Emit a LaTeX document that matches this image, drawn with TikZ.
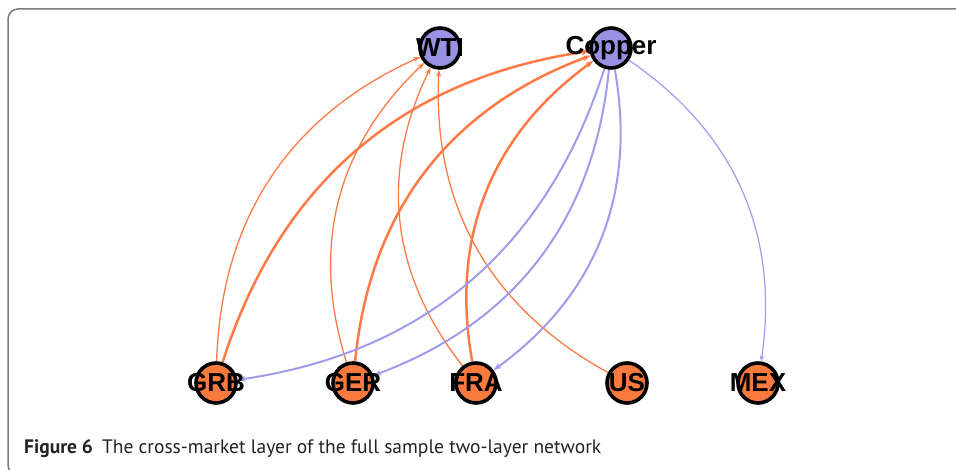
\documentclass[tikz,border=0pt]{standalone}
\usepackage{fontspec}
\setmainfont{Liberation Sans}
\newfontfamily\capfont{PT Sans}
\usetikzlibrary{arrows.meta,backgrounds}
\definecolor{nodeorange}{RGB}{250,122,62}
\definecolor{nodeblue}{RGB}{152,146,226}
\definecolor{edgeorange}{RGB}{255,122,70}
\definecolor{edgeblue}{RGB}{160,155,234}
\definecolor{framegray}{RGB}{125,125,125}
\definecolor{captext}{RGB}{35,35,35}
\tikzset{
  vtx/.style={circle, draw=black, line width=3.6pt, minimum size=40pt, inner sep=0pt,
    label={[font=\bfseries\fontsize{26}{26}\selectfont, inner sep=0pt]center:#1}},
  vorange/.style={vtx=#1, fill=nodeorange},
  vblue/.style={vtx=#1, fill=nodeblue},
  lnk/.style={bend left=32},
  othin/.style={lnk, draw=edgeorange, line width=1.3pt, -{Stealth[length=7pt,width=5pt]}},
  othick/.style={lnk, draw=edgeorange, line width=2.5pt, -{Stealth[length=8pt,width=6pt]}},
  bmid/.style={lnk, draw=edgeblue, line width=2pt, -{Stealth[length=8pt,width=6pt]}},
  bthin/.style={lnk, draw=edgeblue, line width=1.2pt, -{Stealth[length=6pt,width=4.5pt]}},
}
\begin{document}
\begin{tikzpicture}[x=1pt,y=1pt]
\useasboundingbox (0,0) rectangle (956,470);
% panel frame
\draw[framegray, line width=1.5pt, rounded corners=10pt]
  (970,461) -- (8,461) -- (8,-5) -- (970,-5);
% vertices
\node[vblue=WTI] (WTI) at (440,422) {};
\node[vblue=Copper] (Copper) at (611,422) {};
\node[vorange=GRB] (GRB) at (216,87) {};
\node[vorange=GER] (GER) at (353,87) {};
\node[vorange=FRA] (FRA) at (476,87) {};
\node[vorange=US] (US) at (627,87) {};
\node[vorange=MEX] (MEX) at (758,87) {};
% cross-market links
\begin{scope}[on background layer]
\draw[othin] (GRB) to (WTI);
\draw[othin] (GER) to (WTI);
\draw[othin] (FRA) to (WTI);
\draw[othin] (US) to (WTI);
\draw[othick] (GRB) to (Copper);
\draw[othick] (GER) to (Copper);
\draw[othick] (FRA) to (Copper);
\draw[bmid] (Copper) to (GRB);
\draw[bmid] (Copper) to (GER);
\draw[bmid] (Copper) to (FRA);
\draw[bthin] (Copper) to (MEX);
\end{scope}
% caption
\node[anchor=base west, inner sep=0pt, text=captext, font=\capfont\fontsize{19.5}{22}\selectfont] (cap) at (24,16)
  {\textbf{Figure 6}\hspace{9pt}The cross-market layer of the full sample two-layer network};
\end{tikzpicture}
\end{document}
